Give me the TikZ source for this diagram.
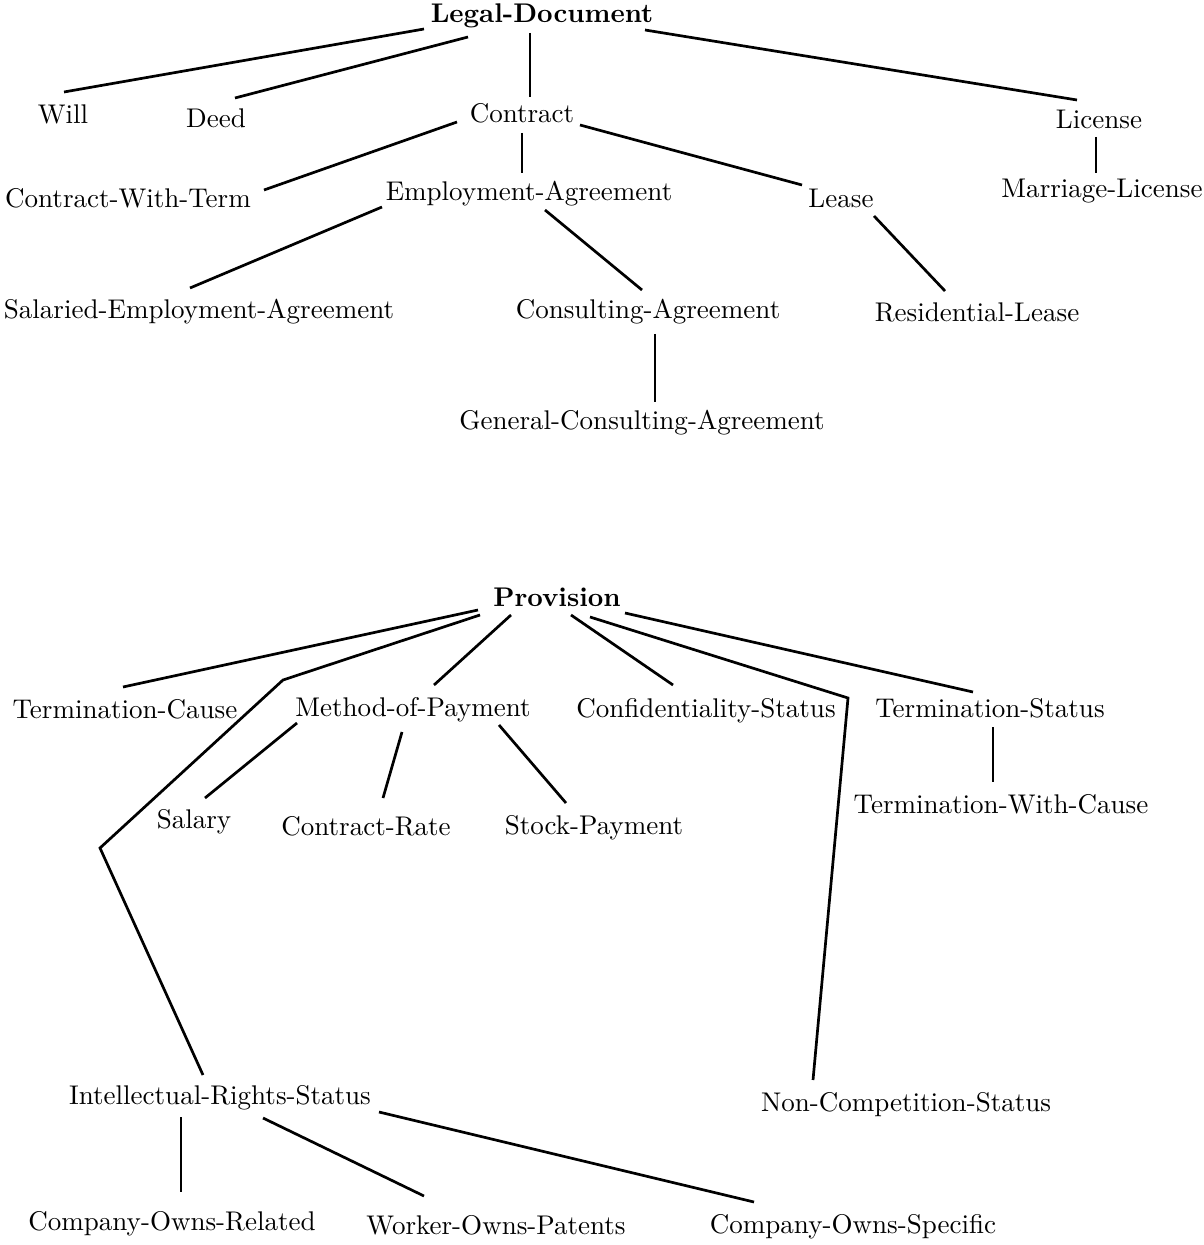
\documentclass[tikz,border=0pt]{standalone}
\usepackage{tikz}
\usetikzlibrary{calc}

\begin{document}
\begin{tikzpicture}[x=0.37pt,y=-0.37pt,
    term/.style={inner sep=0pt,text height=7pt,text depth=2pt},
    root/.style={term,font=\bfseries},
    link/.style={line width=1pt}]
    \useasboundingbox (0,0) rectangle (1203,1245);

    % Document hierarchy
    \node[root] (legal) at (542,16) {Legal-Document};
    \node[term] (will) at (63,117) {Will};
    \node[term] (deed) at (216,121) {Deed};
    \node[term] (contract) at (522,116) {Contract};
    \node[term] (license) at (1099,122) {License};
    \node[term] (withterm) at (128,201) {Contract-With-Term};
    \node[term] (employ) at (529,194) {Employment-Agreement};
    \node[term] (lease) at (841,201) {Lease};
    \node[term] (marriage) at (1102,191) {Marriage-License};
    \node[term] (salaried) at (199,312) {Salaried-Employment-Agreement};
    \node[term] (consult) at (648,312) {Consulting-Agreement};
    \node[term] (resid) at (977,315) {Residential-Lease};
    \node[term] (general) at (642,423) {General-Consulting-Agreement};

    \draw[link] ($(legal)+(-118,13)$) -- ($(will)+(1,-25)$);
    \draw[link] ($(legal)+(-74,21)$) -- ($(deed)+(19,-23)$);
    \draw[link] ($(legal)+(-12,17)$) -- ($(contract)+(8,-19)$);
    \draw[link] ($(legal)+(103,14)$) -- ($(license)+(-22,-22)$);
    \draw[link] ($(contract)+(-65,6)$) -- ($(withterm)+(136,-11)$);
    \draw[link] ($(contract)+(0,17)$) -- ($(employ)+(-7,-21)$);
    \draw[link] ($(contract)+(58,9)$) -- ($(lease)+(-39,-16)$);
    \draw[link] ($(license)+(-3,15)$) -- ($(marriage)+(-6,-18)$);
    \draw[link] ($(employ)+(-147,13)$) -- ($(salaried)+(-9,-24)$);
    \draw[link] ($(employ)+(16,16)$) -- ($(consult)+(-6,-22)$);
    \draw[link] ($(lease)+(33,15)$) -- ($(resid)+(-32,-24)$);
    \draw[link] ($(consult)+(7,22)$) -- ($(general)+(13,-21)$);

    % Provision hierarchy
    \node[root] (prov) at (557,600) {Provision};
    \node[term] (termcause) at (125,712) {Termination-Cause};
    \node[term] (method) at (413,710) {Method-of-Payment};
    \node[term] (confid) at (706,711) {Confidentiality-Status};
    \node[term] (termstat) at (990,711) {Termination-Status};
    \node[term] (withcause) at (1001,807) {Termination-With-Cause};
    \node[term] (salary) at (194,822) {Salary};
    \node[term] (rate) at (366,829) {Contract-Rate};
    \node[term] (stock) at (594,828) {Stock-Payment};
    \node[term] (intell) at (220,1098) {Intellectual-Rights-Status};
    \node[term] (noncomp) at (906,1105) {Non-Competition-Status};
    \node[term] (related) at (172,1224) {Company-Owns-Related};
    \node[term] (patents) at (496,1228) {Worker-Owns-Patents};
    \node[term] (specific) at (853,1227) {Company-Owns-Specific};

    \coordinate (bendA) at (283,680);
    \coordinate (bendB) at (100,848);
    \coordinate (bendC) at (848,698);

    \draw[link] ($(prov)+(-79,10)$) -- ($(termcause)+(-2,-25)$);
    \draw[link] ($(prov)+(-77,15)$) -- (bendA) -- (bendB) -- ($(intell)+(-17,-23)$);
    \draw[link] ($(prov)+(-46,15)$) -- ($(method)+(21,-25)$);
    \draw[link] ($(prov)+(14,15)$) -- ($(confid)+(-33,-26)$);
    \draw[link] ($(prov)+(33,17)$) -- (bendC) -- ($(noncomp)+(-93,-25)$);
    \draw[link] ($(prov)+(68,13)$) -- ($(termstat)+(-17,-19)$);
    \draw[link] ($(termstat)+(3,16)$) -- ($(withcause)+(-8,-25)$);
    \draw[link] ($(method)+(-116,13)$) -- ($(salary)+(11,-24)$);
    \draw[link] ($(method)+(-11,22)$) -- ($(rate)+(17,-31)$);
    \draw[link] ($(method)+(86,15)$) -- ($(stock)+(-28,-25)$);
    \draw[link] ($(intell)+(-39,19)$) -- ($(related)+(9,-32)$);
    \draw[link] ($(intell)+(43,20)$) -- ($(patents)+(-72,-32)$);
    \draw[link] ($(intell)+(159,14)$) -- ($(specific)+(-99,-25)$);
\end{tikzpicture}
\end{document}
